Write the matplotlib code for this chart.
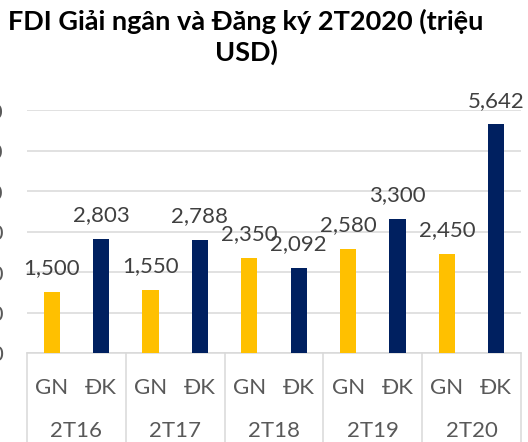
import matplotlib
matplotlib.use('Agg')
import matplotlib.pyplot as plt
import matplotlib.transforms as mtransforms

# Data (million USD)
years = ['2T16', '2T17', '2T18', '2T19', '2T20']
series_labels = ['GN', 'ĐK']
disbursed = [1500, 1550, 2350, 2580, 2450]
registered = [2803, 2788, 2092, 3300, 5642]
y_ticks = [0, 1000, 2000, 3000, 4000, 5000, 6000]

yellow = '#FFC000'
navy = '#002060'
grid_color = '#D9D9D9'
text_color = '#404040'
label_color = '#595959'

plt.rcParams['font.family'] = ['Lato', 'Open Sans', 'DejaVu Sans']

W, H = 528, 442
fig = plt.figure(figsize=(W / 100, H / 100), dpi=100)
ax = fig.add_axes([27 / W, (H - 353) / H, 494 / W, 243 / H])

# Each year gets two slots: GN on the left, ĐK on the right
gn_x = [2 * i + 0.5 for i in range(len(years))]
dk_x = [2 * i + 1.5 for i in range(len(years))]
bar_w = 0.33

ax.bar(gn_x, disbursed, width=bar_w, color=yellow, zorder=3)
ax.bar(dk_x, registered, width=bar_w, color=navy, zorder=3)

# Value labels above the bars
for x, v in list(zip(gn_x, disbursed)) + list(zip(dk_x, registered)):
    ax.annotate(f'{v:,}', (x, v), xytext=(0, 10), textcoords='offset points',
                ha='center', va='bottom', fontsize=16, color=text_color)

ax.set_xlim(0, 10)
ax.set_ylim(0, 6000)
ax.set_yticks(y_ticks)
ax.set_yticklabels([f'{t:,}' for t in y_ticks], fontsize=16, color=label_color)
ax.tick_params(axis='y', length=0, pad=17)
ax.set_xticks([])
ax.yaxis.grid(True, color=grid_color, linewidth=1.1, zorder=0)
for s in ['left', 'right', 'top']:
    ax.spines[s].set_visible(False)
ax.spines['bottom'].set_color(grid_color)
ax.spines['bottom'].set_linewidth(1.1)

# Two-level category axis: series names, then years, boxed by separators
trans = mtransforms.blended_transform_factory(ax.transData, fig.transFigure)
for i, yr in enumerate(years):
    for j, name in enumerate(series_labels):
        ax.text(2 * i + 0.5 + j, 1 - 394 / H, name, transform=trans,
                ha='center', va='baseline', fontsize=16, color=label_color)
    ax.text(2 * i + 1, 1 - 441 / H, yr, transform=trans,
            ha='center', va='bottom', fontsize=16, color=label_color)
for k in range(len(years) + 1):
    ax.plot([2 * k, 2 * k], [(H - 353) / H, -0.05], transform=trans,
            color=grid_color, linewidth=1.1, clip_on=False)

fig.text(246 / W, 1 - 9 / H, 'FDI Giải ngân và Đăng ký 2T2020 (triệu\nUSD)',
         ha='center', va='top', fontsize=19.5, fontweight='bold', color='black',
         linespacing=1.25)

fig.savefig('out.png', dpi=100)
